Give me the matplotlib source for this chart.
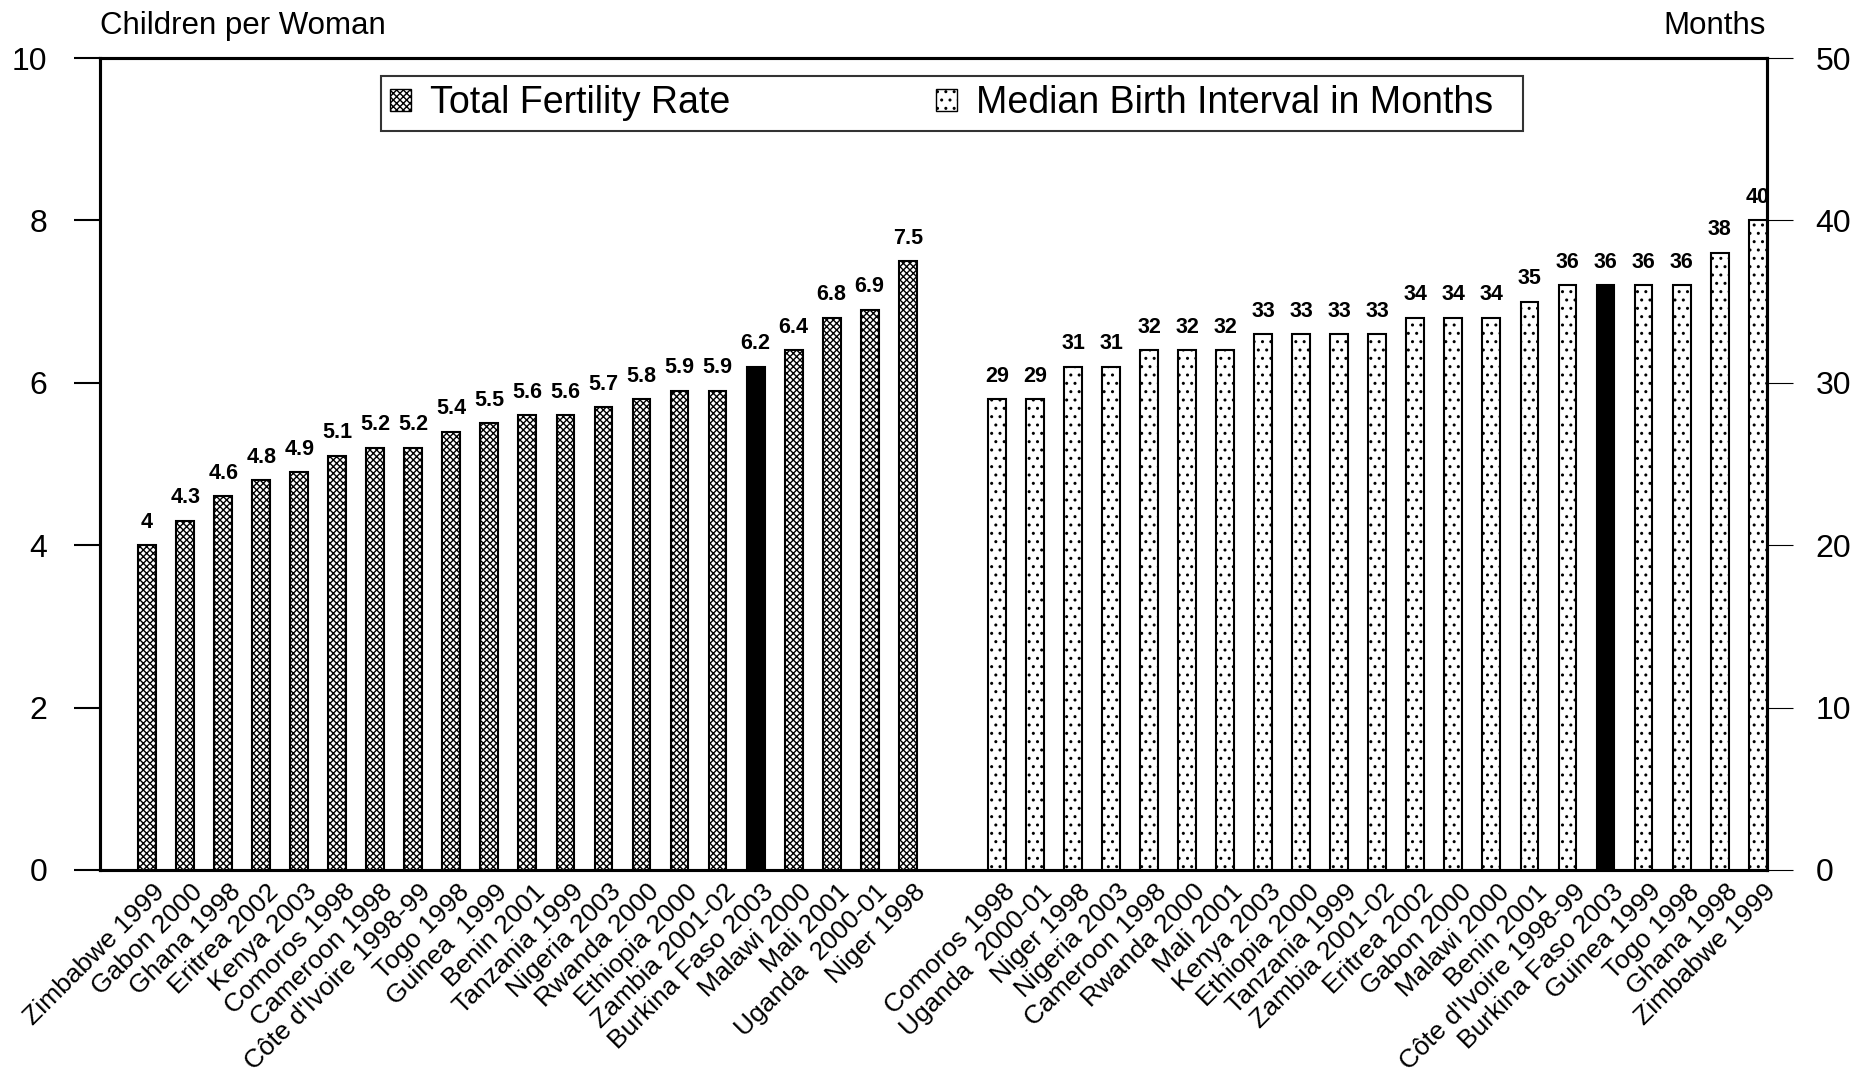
import numpy as np
import matplotlib.pyplot as plt
from matplotlib.patches import Patch
from matplotlib.transforms import offset_copy

plt.rcParams['font.family'] = ['Liberation Sans', 'DejaVu Sans']
plt.rcParams['hatch.linewidth'] = 1.0

# ---- datos ----
paises_tfr = ["Zimbabwe 1999", "Gabon 2000", "Ghana 1998", "Eritrea 2002", "Kenya 2003",
              "Comoros 1998", "Cameroon 1998", "Côte d'Ivoire 1998-99", "Togo 1998",
              "Guinea  1999", "Benin 2001", "Tanzania 1999", "Nigeria 2003", "Rwanda 2000",
              "Ethiopia 2000", "Zambia 2001-02", "Burkina Faso 2003", "Malawi 2000",
              "Mali 2001", "Uganda  2000-01", "Niger 1998"]
tfr = [4, 4.3, 4.6, 4.8, 4.9, 5.1, 5.2, 5.2, 5.4, 5.5, 5.6, 5.6, 5.7, 5.8, 5.9, 5.9,
       6.2, 6.4, 6.8, 6.9, 7.5]

paises_int = ["Comoros 1998", "Uganda  2000-01", "Niger 1998", "Nigeria 2003", "Cameroon 1998",
              "Rwanda 2000", "Mali 2001", "Kenya 2003", "Ethiopia 2000", "Tanzania 1999",
              "Zambia 2001-02", "Eritrea 2002", "Gabon 2000", "Malawi 2000", "Benin 2001",
              "Côte d'Ivoire 1998-99", "Burkina Faso 2003", "Guinea 1999", "Togo 1998",
              "Ghana 1998", "Zimbabwe 1999"]
intervalo = [29, 29, 31, 31, 32, 32, 32, 33, 33, 33, 33, 34, 34, 34, 35, 36, 36, 36, 36, 38, 40]

destacado = "Burkina Faso 2003"

# ---- figura ----
fig = plt.figure(figsize=(18.58, 10.71), dpi=100)
ax = fig.add_axes([0.0536, 0.1877, 0.8975, 0.7581])
ax2 = ax.twinx()

x1 = np.arange(len(tfr))
x2 = 22.35 + np.arange(len(intervalo))
ancho = 0.47

for xi, v, p in zip(x1, tfr, paises_tfr):
    if p == destacado:
        ax.bar(xi, v, width=ancho, color="black", edgecolor="black", linewidth=1.5)
    else:
        ax.bar(xi, v, width=ancho, color="white", edgecolor="black", linewidth=1.5,
               hatch="xxxxx")
    ax.annotate(f"{v:g}", (xi, v), xytext=(0, 9), textcoords="offset points",
                ha="center", va="bottom", fontsize=15.5, fontweight="bold")

for xi, v, p in zip(x2, intervalo, paises_int):
    if p == destacado:
        ax2.bar(xi, v, width=ancho, color="black", edgecolor="black", linewidth=1.5)
    else:
        ax2.bar(xi, v, width=ancho, color="white", edgecolor="black", linewidth=1.5,
                hatch="..")
    ax2.annotate(f"{v:g}", (xi, v), xytext=(0, 9), textcoords="offset points",
                 ha="center", va="bottom", fontsize=15.5, fontweight="bold")

ax.set_xlim(-1.25, 42.6)
ax.set_ylim(0, 10)
ax2.set_ylim(0, 50)
ax.set_yticks([0, 2, 4, 6, 8, 10])
ax2.set_yticks([0, 10, 20, 30, 40, 50])

ax.tick_params(axis="y", length=18.7, width=1.5, pad=19, labelsize=23)
ax2.tick_params(axis="y", length=18.7, width=0.8, pad=16, labelsize=23)
ax.set_xticks([])
for a in (ax, ax2):
    for s in a.spines.values():
        s.set_linewidth(2.2)

# etiquetas del eje x
trans = offset_copy(ax.get_xaxis_transform(), fig=fig, x=4, y=-7, units="points")
for xi, p in zip(list(x1) + list(x2), paises_tfr + paises_int):
    ax.text(xi, 0, p, transform=trans, rotation=45, rotation_mode="anchor",
            ha="right", va="top", fontsize=19)

# leyenda
handles = [Patch(facecolor="white", edgecolor="black", hatch="xxxxx", linewidth=1),
           Patch(facecolor="white", edgecolor="black", hatch="..", linewidth=1)]
leg = ax2.legend(handles, ["Total Fertility Rate", "Median Birth Interval in Months  "],
                 loc="upper left", bbox_to_anchor=(0.1688, 0.978), ncol=2,
                 fontsize=27, frameon=True, fancybox=False, edgecolor="black",
                 handlelength=0.55, handleheight=0.55, handletextpad=0.5,
                 columnspacing=5.5, borderpad=0.25, borderaxespad=0)
leg.get_frame().set_linewidth(1.5)

fig.text(100 / 1858, 1 - 26 / 1071, "Children per Woman", fontsize=22.5,
         ha="left", va="center")
fig.text(1766 / 1858, 1 - 26 / 1071, "Months", fontsize=22.5,
         ha="right", va="center")

plt.savefig("out.png", dpi=100)
